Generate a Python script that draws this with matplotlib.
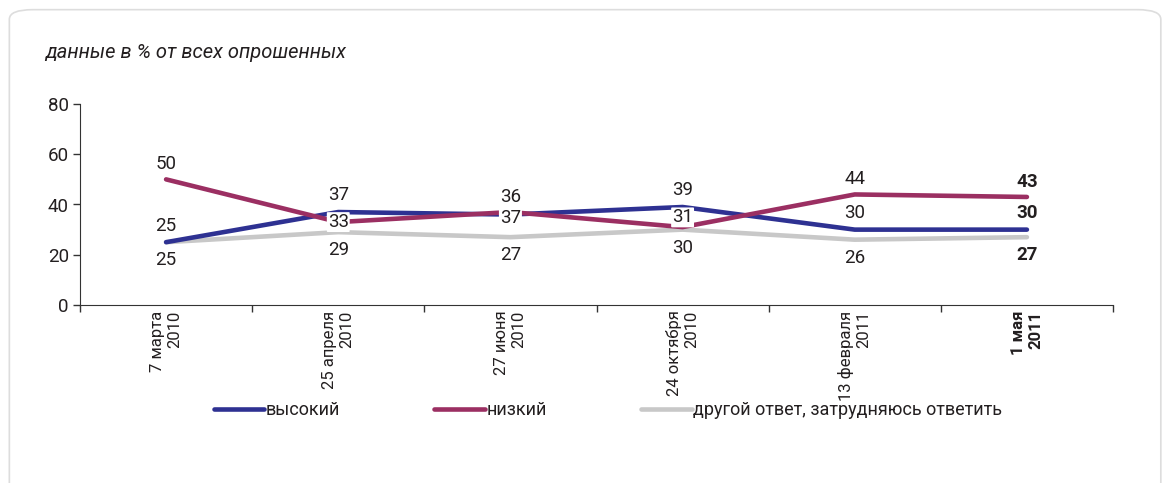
import matplotlib.pyplot as plt
from matplotlib.patches import FancyBboxPatch

plt.rcParams['font.family'] = ['Roboto', 'DejaVu Sans']

dates = ['7 марта\n2010', '25 апреля\n2010', '27 июня\n2010',
         '24 октября\n2010', '13 февраля\n2011', '1 мая\n2011']
high = [25, 37, 36, 39, 30, 30]
low = [50, 33, 37, 31, 44, 43]
other = [25, 29, 27, 30, 26, 27]
names = ['высокий', 'низкий', 'другой ответ, затрудняюсь ответить']

c_high = '#2e3192'
c_low = '#9b2f62'
c_other = '#c8c8c8'

fig = plt.figure(figsize=(11.69, 4.83), dpi=100)
frame = FancyBboxPatch((0.008, -0.02), 0.985, 1.0, boxstyle='round,pad=0,rounding_size=0.02',
                       transform=fig.transFigure, fc='white', ec='#dddddd', lw=1.2, zorder=-5)
fig.patches.append(frame)
ax = fig.add_axes([80/1169, 1-305/483, (1113-80)/1169, (305-104)/483])
ax.patch.set_alpha(0)

x = list(range(len(dates)))
ax.plot(x, other, color=c_other, lw=3.3, zorder=2, solid_capstyle='round', label=names[2])
ax.plot(x, high, color=c_high, lw=3.3, zorder=3, solid_capstyle='round', label=names[0])
ax.plot(x, low, color=c_low, lw=3.3, zorder=4, solid_capstyle='round', label=names[1])

fs = 13.5
tc = '#231f20'
# small manual nudges for labels sitting on the red line
nudge = {1: 0, 2: -4, 3: 7}
for i in x:
    w = 'bold' if i == len(x) - 1 else 'normal'
    # gray below
    ax.annotate(str(other[i]), (i, other[i]), xytext=(0, -13), textcoords='offset points',
                ha='center', va='center', fontsize=fs, fontweight=w, color=tc, zorder=6)
    if low[i] > high[i] + 5:
        ax.annotate(str(low[i]), (i, low[i]), xytext=(0, 11), textcoords='offset points',
                    ha='center', va='center', fontsize=fs, fontweight=w, color=tc, zorder=6)
        ax.annotate(str(high[i]), (i, high[i]), xytext=(0, 12), textcoords='offset points',
                    ha='center', va='center', fontsize=fs, fontweight=w, color=tc, zorder=6)
    else:
        ax.annotate(str(high[i]), (i, high[i]), xytext=(0, 12.5), textcoords='offset points',
                    ha='center', va='center', fontsize=fs, fontweight=w, color=tc, zorder=6)
        ax.annotate(str(low[i]), (i, low[i]), xytext=(0, nudge.get(i, 0)), textcoords='offset points',
                    ha='center', va='center', fontsize=fs, fontweight=w, color=tc, zorder=6,
                    bbox=dict(boxstyle='round,pad=0.05', fc='white', ec='none'))

ax.set_xlim(-0.5, 5.5)
ax.set_ylim(0, 80)
ax.set_yticks([0, 20, 40, 60, 80])
ax.tick_params(axis='y', labelsize=13.5, length=5, width=1, colors='#333333',
               labelcolor=tc, pad=3)
ax.set_xticks([i + 0.5 for i in range(-1, 6)])
ax.set_xticklabels([])
ax.tick_params(axis='x', which='major', length=5, width=1, direction='out', color='#333333')
ax.set_xticks(x, minor=True)
ax.set_xticklabels(dates, minor=True, rotation=90, ha='center', va='top',
                   multialignment='right', fontsize=12, color=tc)
ax.tick_params(axis='x', which='minor', length=0, pad=4)
ax.get_xticklabels(minor=True)[-1].set_fontweight('bold')
for s in ['top', 'right']:
    ax.spines[s].set_visible(False)
for s in ['left', 'bottom']:
    ax.spines[s].set_color('#333333')

h, l = ax.get_legend_handles_labels()
order = [1, 2, 0]
leg = fig.legend([h[k] for k in order], [l[k] for k in order], loc='center',
                 bbox_to_anchor=(608/1169, 1-410/483), ncol=3, frameon=False,
                 fontsize=13, handlelength=2.8, handletextpad=0.1, columnspacing=5.2)
for t in leg.get_texts():
    t.set_color(tc)

fig.text(45/1169, 1-52/483, 'данные в % от всех опрошенных', fontsize=14.5, style='italic',
         ha='left', va='center', color=tc)

fig.savefig('out.png', dpi=100)
